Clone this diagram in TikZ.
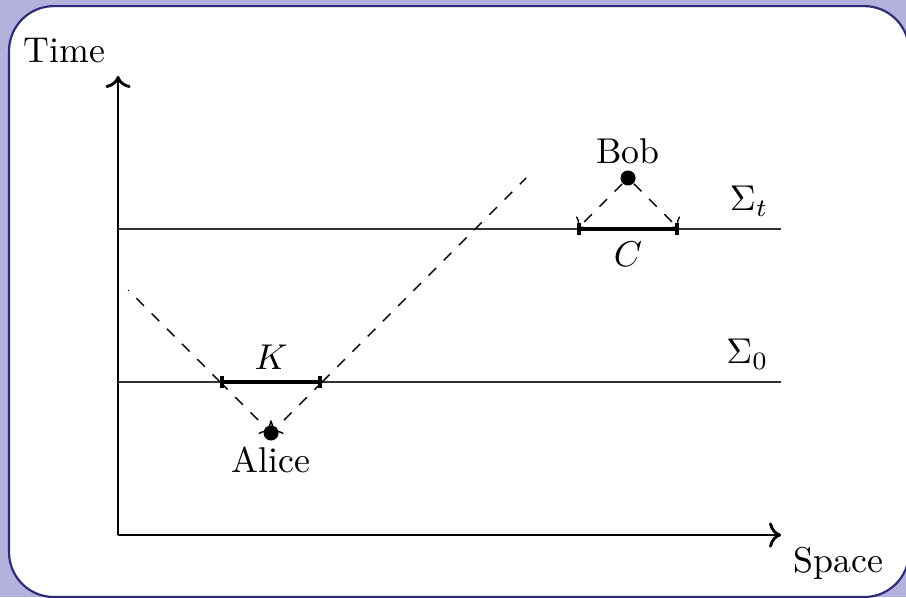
\documentclass[tikz,border=0pt]{standalone}
\usepackage{amsmath,amssymb}
\usepackage{tikz}
\usetikzlibrary{arrows.meta,positioning}
\usepackage{xcolor}
\definecolor{framefill}{RGB}{181,177,221}
\definecolor{frameline}{RGB}{46,42,118}

\begin{document}
\begin{tikzpicture}[x=0.5cm,y=0.5cm,
  event/.style={circle,fill,inner sep=0pt,minimum size=4.2pt},
  slice/.style={black!80,thin},
  region/.style={very thick,{Bar[width=3.6pt]}-{Bar[width=3.6pt]}},
  signal/.style={dashed,thin}]
% frame
\useasboundingbox (-2.314,-1.216) rectangle (15.45,10.49);
\begin{scope}
  \clip (-2.314,-1.216) rectangle (15.45,10.49);
  \fill[framefill] (-2.314,-1.216) rectangle (15.45,10.49);
  \draw[frameline,line width=0.6pt,fill=white,rounded corners=0.44cm] (-2.137,-1.216) rectangle (15.51,10.37);
\end{scope}
% axes
\coordinate (O) at (0,0);
\coordinate (tmax) at (0,9);
\coordinate (xmax) at (13,0);
\draw[thick,->] (O) -- (tmax);
\draw[thick,->] (O) -- (xmax);
\node[above left] (time) at (tmax) {Time};
\node[below right] (space) at (xmax) {Space};
% slices
\coordinate (s0a) at (0,3);
\coordinate (s0b) at (13,3);
\coordinate (sta) at (0,6);
\coordinate (stb) at (13,6);
\draw[slice] (s0a) -- (s0b);
\draw[slice] (sta) -- (stb);
\node[above left] (lab0) at (s0b) {$\Sigma_0$};
\node[above left] (labt) at (stb) {$\Sigma_t$};
% Alice and K
\coordinate (a) at (3,2);
\coordinate (k1) at (2,3);
\coordinate (k2) at (4,3);
\coordinate (lfar) at (0.2,4.8);
\coordinate (rfar) at (8,7);
\draw[signal,->] (k1) -- (a);
\draw[signal,->] (k2) -- (a);
\draw[signal] (k1) -- (lfar);
\draw[signal] (k2) -- (rfar);
\node[event] (alice) at (a) {};
\node[below=-2pt of alice] (alicelab) {Alice};
\draw[region] (k1) -- (k2);
\node[above] (K) at (3,3) {$K$};
% Bob and C
\node[event] (bob) at (10,7) {};
\node[above=-2pt of bob] (boblab) {Bob};
\coordinate (c1) at (9,6);
\coordinate (c2) at (11,6);
\draw[signal,->] (bob) -- (c1);
\draw[signal,->] (bob) -- (c2);
\draw[region] (c1) -- (c2);
\node[below] (C) at (10,6) {$C$};
\end{tikzpicture}
\end{document}
